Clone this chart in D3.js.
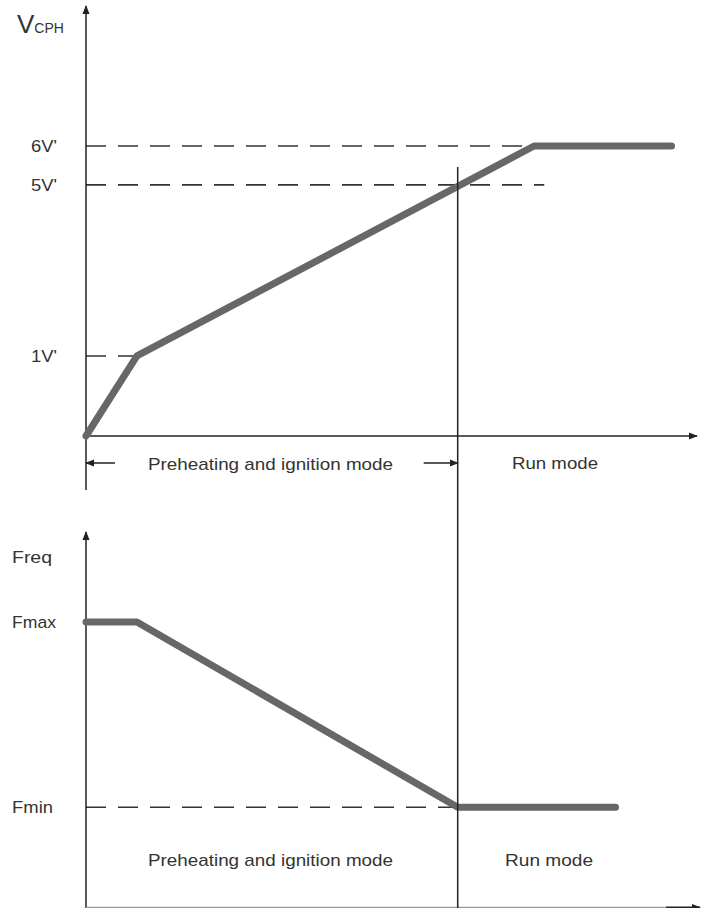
<!DOCTYPE html>
<html>
<head>
<meta charset="utf-8">
<script src="https://d3js.org/d3.v7.min.js"></script>
<style>
  html, body { margin: 0; padding: 0; background: #fff; }
  svg { display: block; font-family: "Liberation Sans", Arial, sans-serif; }
</style>
</head>
<body>
<div id="chart"></div>
<script>
// Time axis (arbitrary units), shared by both panels
const modeBoundary = 73;

// Top panel: VCPH vs time
const vcphTime = [0, 10, 88, 115];
const vcphLevel = [0, 27.6, 100, 100];
const vcphTickLabels = ["1V'", "5V'", "6V'"];
const vcphTickValues = [27.6, 86.6, 100];
const vcphGuideEnd = [10, 90, 88];

// Bottom panel: frequency vs time
const freqTime = [0, 10, 73, 104];
const freqLevel = [100, 100, 35, 35];
const freqTickLabels = ["Fmax", "Fmin"];
const freqTickValues = [100, 35];
const freqGuideEnd = [0, 73];

const modeLabels = ["Preheating and ignition mode", "Run mode"];

const width = 704, height = 908;
const svg = d3.select('#chart').append('svg')
    .attr('width', width)
    .attr('height', height);

const x = d3.scaleLinear().domain([0, 120]).range([86, 697]);
const yTop = d3.scaleLinear().domain([0, 100]).range([436, 146]);
const yBot = d3.scaleLinear().domain([0, 100]).range([907, 622]);

const axisColor = '#222';
const textColor = '#333';
const curveColor = '#676767';

// arrow marker
const defs = svg.append('defs');
defs.append('marker')
    .attr('id', 'arrow')
    .attr('viewBox', '0 0 10 10')
    .attr('refX', 9).attr('refY', 5)
    .attr('markerWidth', 9).attr('markerHeight', 9)
    .attr('markerUnits', 'userSpaceOnUse')
    .attr('orient', 'auto-start-reverse')
    .append('path')
    .attr('d', 'M0,1 L10,5 L0,9 Z')
    .attr('fill', axisColor);

function line(g, x1, y1, x2, y2, opts = {}) {
    const l = g.append('line')
        .attr('x1', x1).attr('y1', y1)
        .attr('x2', x2).attr('y2', y2)
        .attr('stroke', opts.color || axisColor)
        .attr('stroke-width', opts.width || 1.5);
    if (opts.dash) l.attr('stroke-dasharray', opts.dash);
    if (opts.end) l.attr('marker-end', 'url(#arrow)');
    if (opts.start) l.attr('marker-start', 'url(#arrow)');
    return l;
}

function text(g, str, tx, ty, size, anchor = 'start', len = null) {
    const t = g.append('text')
        .attr('x', tx).attr('y', ty)
        .attr('font-size', size)
        .attr('fill', textColor)
        .attr('text-anchor', anchor)
        .text(str);
    if (len) t.attr('textLength', len).attr('lengthAdjust', 'spacingAndGlyphs');
    return t;
}

const x0 = x(0);
const xb = x(modeBoundary);

// ---------- Top panel ----------
const topPanel = svg.append('g');

// guides
vcphTickValues.forEach((v, i) => {
    line(topPanel, x0, yTop(v), x(vcphGuideEnd[i]), yTop(v), { dash: '20,12', width: 1.6, color: '#333' });
    text(topPanel, vcphTickLabels[i], 31, yTop(v) + 6, 16, 'start', 26);
});

// axes
line(topPanel, x0, 490, x0, 6, { end: true });
line(topPanel, x0, yTop(0), 697, yTop(0), { end: true });

// curve
topPanel.append('path')
    .datum(vcphTime.map((t, i) => [t, vcphLevel[i]]))
    .attr('d', d3.line().x(d => x(d[0])).y(d => yTop(d[1])))
    .attr('fill', 'none')
    .attr('stroke', curveColor)
    .attr('stroke-width', 7)
    .attr('stroke-linecap', 'round')
    .attr('stroke-linejoin', 'round');

// axis title VCPH
const vt = topPanel.append('text').attr('x', 17).attr('y', 33).attr('fill', textColor);
vt.append('tspan').attr('font-size', 26).text('V');
vt.append('tspan').attr('font-size', 14).text('CPH');

// mode annotations
line(topPanel, x0 + 29, 463, x0, 463, { end: true });
line(topPanel, xb - 34, 463, xb, 463, { end: true });
text(topPanel, modeLabels[0], 148, 470, 17, 'start', 245);
text(topPanel, modeLabels[1], 512, 469, 17, 'start', 86);

// ---------- Bottom panel ----------
const botPanel = svg.append('g');

freqTickValues.forEach((v, i) => {
    if (freqGuideEnd[i] > 0) {
        line(botPanel, x0, yBot(v), x(freqGuideEnd[i]), yBot(v), { dash: '20,12', width: 1.6, color: '#333' });
    }
    text(botPanel, freqTickLabels[i], 12, yBot(v) + 6, 17, 'start', i === 0 ? 44 : 41);
});

line(botPanel, x0, 908, x0, 532, { end: true });
line(botPanel, x0, 907.5, 666, 907.5, { color: '#999', width: 1.5 });
line(botPanel, 666, 907.5, 700, 907.5, { end: true, width: 2 });

botPanel.append('path')
    .datum(freqTime.map((t, i) => [t, freqLevel[i]]))
    .attr('d', d3.line().x(d => x(d[0])).y(d => yBot(d[1])))
    .attr('fill', 'none')
    .attr('stroke', curveColor)
    .attr('stroke-width', 7)
    .attr('stroke-linecap', 'round')
    .attr('stroke-linejoin', 'round');

text(botPanel, 'Freq', 12, 563, 17, 'start', 40);
text(botPanel, modeLabels[0], 148, 866, 17, 'start', 245);
text(botPanel, modeLabels[1], 505, 866, 17, 'start', 88);

// mode boundary line, through both panels
line(svg, xb, 167, xb, 908, { width: 1.5 });
</script>
</body>
</html>
